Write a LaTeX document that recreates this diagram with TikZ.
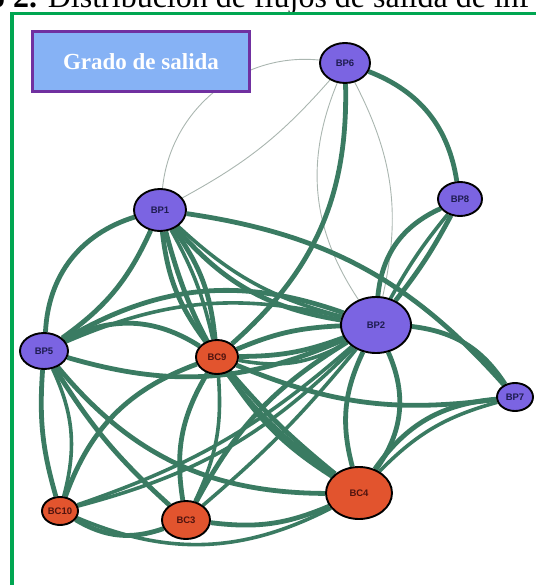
\documentclass[tikz,border=0pt]{standalone}
\usepackage{fontspec}
\setmainfont{Liberation Serif}
\newfontfamily\lblfont{Liberation Sans}
\usetikzlibrary{shapes.geometric,backgrounds}
\definecolor{edgegreen}{RGB}{58,123,98}
\definecolor{edgegray}{RGB}{170,182,176}
\definecolor{nodepurple}{RGB}{123,100,226}
\definecolor{nodeorange}{RGB}{226,84,46}
\definecolor{lblnavy}{RGB}{30,28,80}
\definecolor{lbldark}{RGB}{80,20,15}
\definecolor{framegreen}{RGB}{0,166,81}
\definecolor{boxblue}{RGB}{134,178,245}
\definecolor{boxpurple}{RGB}{112,48,160}
\begin{document}
\begin{tikzpicture}[x=1pt,y=1pt,
  nd/.style={ellipse, draw=black, line width=1.9pt, inner sep=0pt,
    font=\lblfont\fontsize{9.5}{9.5}\selectfont\bfseries},
  pnode/.style={nd, fill=nodepurple, text=lblnavy},
  onode/.style={nd, fill=nodeorange, text=lbldark},
  thk/.style={draw=edgegreen, line width=4.8pt},
  mid/.style={draw=edgegreen, line width=3.6pt},
  thn/.style={draw=edgegray, line width=0.9pt},
  titlebox/.style={draw=boxpurple, line width=2.5pt, fill=boxblue, text=white,
    font=\fontsize{23}{23}\selectfont\bfseries, minimum width=217pt, minimum height=60pt, inner sep=0pt},
  captxt/.style={anchor=base west, inner sep=0pt, font=\fontsize{32}{32}\selectfont}
]
\useasboundingbox (0,0) rectangle (535,-585);
% caption (cut off at the top)
\node[captxt] (cap) at (-11,-7.5) {{\bfseries o 2.} Distribución de flujos de salida de inf};
% green frame
\draw[framegreen, line width=3.5pt] (12,-700) -- (12,-13.5) -- (700,-13.5);
% title box
\node[titlebox] (title) at (141,-61.5) {Grado de salida};

% nodes
\node[pnode, minimum width=50pt, minimum height=40pt] (BP6) at (345,-63) {BP6};
\node[pnode, minimum width=52pt, minimum height=42pt] (BP1) at (160,-210) {BP1};
\node[pnode, minimum width=44pt, minimum height=34pt] (BP8) at (460,-199) {BP8};
\node[pnode, minimum width=70pt, minimum height=56pt] (BP2) at (376,-325) {BP2};
\node[pnode, minimum width=48pt, minimum height=36pt] (BP5) at (44,-351) {BP5};
\node[onode, minimum width=42pt, minimum height=34pt] (BC9) at (217,-357) {BC9};
\node[pnode, minimum width=36pt, minimum height=28pt] (BP7) at (515,-397) {BP7};
\node[onode, minimum width=36pt, minimum height=28pt] (BC10) at (60,-511) {BC10};
\node[onode, minimum width=48pt, minimum height=38pt] (BC3) at (186,-520) {BC3};
\node[onode, minimum width=66pt, minimum height=52pt] (BC4) at (359,-493) {BC4};

\begin{pgfonlayer}{background}
% thin grey edges
\draw[thn] (BP6) to[bend right=45] (BP1);
\draw[thn] (BP6) to[bend left=10] (BP1);
\draw[thn] (BP6) to[bend right=28] (BP2);
\draw[thn] (BP6) to[bend left=20] (BP2);
% thick edges
\draw[thk] (BP6) to[bend left=30] (BP8);
\draw[thk] (BP6) to[bend left=25] (BC9);
\draw[thk] (BP1) to[bend left=20] (BP7);
\draw[thk] (BP1) to[bend right=35] (BP5);
\draw[thk] (BP1) to[bend left=15] (BP5);
\draw[thk] (BP1) to[bend left=15] (BC9);
\draw[mid] (BP1) to[bend left=8] (BC9);
\draw[thk] (BP1) to[bend right=15] (BC9);
\draw[thk] (BP1) to[bend right=20] (BP2);
\draw[mid] (BP1) to[bend right=14] (BP2);
\draw[thk] (BP1) to[bend right=20] (BC4);
\draw[thk] (BP5) to[bend left=25] (BP2);
\draw[mid] (BP5) to[bend left=18] (BP2);
\draw[thk] (BP5) to[bend left=30] (BC9);
\draw[thk] (BP5) to[bend right=20] (BP2);
\draw[thk] (BP5) to[bend right=10] (BC10);
\draw[mid] (BP5) to[bend left=20] (BC10);
\draw[thk] (BP5) to[bend right=8] (BC3);
\draw[thk] (BP5) to[bend right=25] (BC4);
\draw[thk] (BC10) to[bend left=25] (BC9);
\draw[mid] (BC10) to[bend right=15] (BP2);
\draw[mid] (BC10) to[bend right=11] (BP2);
\draw[thk] (BC10) to[bend right=25] (BC3);
\draw[mid] (BC10) to[bend right=25] (BC4);
\draw[thk] (BC3) to[bend right=15] (BC4);
\draw[thk] (BC3) to[bend left=20] (BC9);
\draw[mid] (BC9) to[bend left=15] (BC3);
\draw[thk] (BC3) to[bend left=15] (BP2);
\draw[mid] (BC3) to[bend right=5] (BP2);
\draw[thk] (BC9) to[bend right=5] (BC4);
\draw[thk] (BC9) to[bend right=12] (BC4);
\draw[thk] (BC9) to[bend left=10] (BP2);
\draw[thk] (BC9) to[bend right=10] (BP2);
\draw[mid] (BC9) to[bend right=20] (BP2);
\draw[thk] (BP2) to[bend left=30] (BC4);
\draw[thk] (BP2) to[bend right=20] (BC4);
\draw[thk] (BP2) to[bend left=25] (BP7);
\draw[thk] (BP7) to[bend right=25] (BC4);
\draw[mid] (BP7) to[bend right=15] (BC4);
\draw[thk] (BP7) to[bend left=15] (BC9);
\draw[thk] (BP8) to[bend right=30] (BP2);
\draw[thk] (BP8) to[bend left=5] (BP2);
\draw[mid] (BP8) to[bend right=5] (BP2);
\end{pgfonlayer}
\end{tikzpicture}
\end{document}
